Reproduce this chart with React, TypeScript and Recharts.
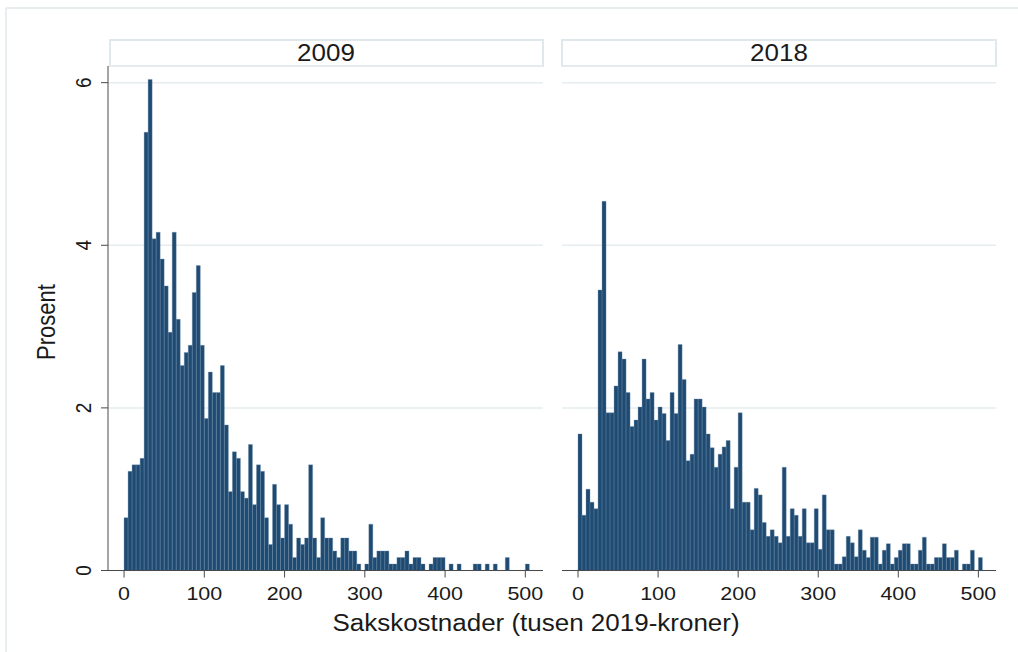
import React from "react";
import { BarChart, Bar, XAxis, YAxis, CartesianGrid } from "recharts";

// Histogram bins: width 5 (tusen kroner), starting at 0
const BIN_WIDTH = 5;
const xTicks = [0, 100, 200, 300, 400, 500];
const yTicks = [0, 2, 4, 6];
const panels = ["2009", "2018"];

// Percent per bin, 2009
const pct2009 = [
  0.65, 1.22, 1.3, 1.3, 1.38, 5.39, 6.04, 4.08, 4.16, 3.83,
  3.5, 2.93, 4.16, 3.09, 2.52, 2.68, 2.77, 3.42, 3.75, 2.77,
  1.87, 2.44, 2.19, 2.19, 2.52, 1.79, 0.97, 1.46, 1.38, 0.97,
  0.89, 1.55, 0.81, 1.3, 1.22, 0.65, 0.32, 1.06, 0.81, 0.4,
  0.81, 0.57, 0.16, 0.4, 0.32, 0.4, 1.3, 0.4, 0.16, 0.65,
  0.4, 0.4, 0.24, 0.16, 0.4, 0.4, 0.24, 0.24, 0.08, 0,
  0.08, 0.57, 0.16, 0.24, 0.24, 0.24, 0.08, 0.08, 0.16, 0.16,
  0.24, 0.08, 0.16, 0.16, 0.08, 0, 0.08, 0.16, 0.16, 0.16,
  0, 0.08, 0, 0.08, 0, 0, 0, 0.08, 0.08, 0,
  0.08, 0, 0.08, 0, 0, 0.16, 0, 0, 0, 0,
  0.08,
];

// Percent per bin, 2018
const pct2018 = [
  1.68, 0.68, 1.0, 0.84, 0.76, 3.45, 4.54, 1.94, 1.94, 2.27,
  2.69, 2.6, 2.19, 1.77, 1.85, 2.01, 2.6, 2.11, 2.19, 1.85,
  2.01, 1.93, 1.6, 2.19, 1.93, 2.78, 2.35, 1.35, 1.43, 2.11,
  2.11, 2.01, 1.68, 1.51, 1.27, 1.43, 1.52, 1.6, 0.76, 1.27,
  1.94, 0.84, 0.84, 0.5, 1.01, 0.93, 0.59, 0.42, 0.5, 0.42,
  0.34, 1.27, 0.42, 0.76, 0.68, 0.42, 0.76, 0.34, 0.34, 0.76,
  0.26, 0.93, 0.5, 0.5, 0.08, 0.08, 0.17, 0.42, 0.34, 0.17,
  0.5, 0.25, 0.16, 0.41, 0.41, 0.08, 0.25, 0.33, 0.08, 0.16,
  0.25, 0.33, 0.33, 0.08, 0.08, 0.25, 0.41, 0.08, 0.08, 0.16,
  0.16, 0.33, 0.16, 0.16, 0.25, 0, 0.08, 0.08, 0.25, 0,
  0.16,
];

const toRows = (vals: number[]) =>
  vals.map((v, i) => ({ x: i * BIN_WIDTH + BIN_WIDTH / 2, v }));

const rows2009 = toRows(pct2009);
const rows2018 = toRows(pct2018);

const FONT = "'Liberation Sans', Arial, Helvetica, sans-serif";
const SX = 1.13;
const TEXT = "#1a1a1a";
const AXIS = "#4a4a4a";
const GRID = "#e6edf1";
const BAR_FILL = "#1f4b73";
const BAR_STROKE = "#6f8dab";
const X_DOMAIN: [number, number] = [-20, 522];
const Y_DOMAIN: [number, number] = [0, 6.205];

const XTick = (props: any) => {
  const { x, y, payload } = props;
  return (
    <text
      transform={`translate(${x},${y + 14}) scale(${SX},1)`}
      textAnchor="middle"
      fontFamily={FONT}
      fontSize={19}
      fill={TEXT}
    >
      {payload.value}
    </text>
  );
};

const YTick = (props: any) => {
  const { x, y, payload } = props;
  return (
    <text
      transform={`translate(${x},${y}) scale(${SX},1) rotate(-90)`}
      textAnchor="middle"
      fontFamily={FONT}
      fontSize={19}
      fill={TEXT}
    >
      {payload.value}
    </text>
  );
};

const Panel = ({ rows, showY, left, width, margin }: any) => (
  <div style={{ position: "absolute", left, top: 0 }}>
    <BarChart
      width={width}
      height={652}
      data={rows}
      margin={margin}
      barCategoryGap={0}
      barGap={0}
    >
      <CartesianGrid vertical={false} stroke={GRID} strokeWidth={1.5} />
      <XAxis
        dataKey="x"
        type="number"
        domain={X_DOMAIN}
        ticks={xTicks}
        allowDataOverflow
        height={50}
        tickSize={7}
        tickMargin={8}
        axisLine={{ stroke: AXIS, strokeWidth: 1 }}
        tickLine={{ stroke: AXIS, strokeWidth: 1 }}
        tick={<XTick />}
      />
      <YAxis
        type="number"
        domain={Y_DOMAIN}
        ticks={yTicks}
        allowDataOverflow
        hide={!showY}
        width={showY ? 108 : 0}
        tickSize={7}
        tickMargin={10}
        axisLine={{ stroke: AXIS, strokeWidth: 1 }}
        tickLine={{ stroke: AXIS, strokeWidth: 1 }}
        tick={<YTick />}
      />
      <Bar
        dataKey="v"
        fill={BAR_FILL}
        stroke={BAR_STROKE}
        strokeWidth={0.35}
        isAnimationActive={false}
      />
    </BarChart>
  </div>
);

export default function App() {
  return (
    <div
      style={{
        position: "absolute",
        left: 0,
        top: 0,
        width: 1018,
        height: 652,
        overflow: "hidden",
        background: "#ffffff",
      }}
    >
      <svg
        width={1018}
        height={652}
        style={{ position: "absolute", left: 0, top: 0 }}
      >
        <line x1={6} y1={8} x2={1018} y2={8} stroke="#e8edf0" strokeWidth={2} />
        <line x1={6} y1={8} x2={6} y2={652} stroke="#e8edf0" strokeWidth={2} />
        <rect x={110} y={40} width={433} height={26} fill="#ffffff" stroke="#e0e8ec" strokeWidth={2} />
        <rect x={562} y={40} width={434} height={26} fill="#ffffff" stroke="#e0e8ec" strokeWidth={2} />
        <text
          transform={`translate(326,61) scale(${SX},1)`}
          textAnchor="middle"
          fontFamily={FONT}
          fontSize={23}
          fill={TEXT}
        >
          {panels[0]}
        </text>
        <text
          transform={`translate(779,61) scale(${SX},1)`}
          textAnchor="middle"
          fontFamily={FONT}
          fontSize={23}
          fill={TEXT}
        >
          {panels[1]}
        </text>
        <text
          transform={`translate(55,322) scale(${SX},1) rotate(-90)`}
          textAnchor="middle"
          fontFamily={FONT}
          fontSize={22}
          fill={TEXT}
        >
          Prosent
        </text>
        <text
          transform={`translate(536,631) scale(${SX},1)`}
          textAnchor="middle"
          fontFamily={FONT}
          fontSize={23}
          fill={TEXT}
        >
          Sakskostnader (tusen 2019-kroner)
        </text>
      </svg>
      <Panel
        rows={rows2009}
        showY={true}
        left={0}
        width={560}
        margin={{ top: 66, right: 17, bottom: 31.5, left: 0 }}
      />
      <Panel
        rows={rows2018}
        showY={false}
        left={550}
        width={468}
        margin={{ top: 66, right: 22, bottom: 31.5, left: 12 }}
      />
    </div>
  );
}
